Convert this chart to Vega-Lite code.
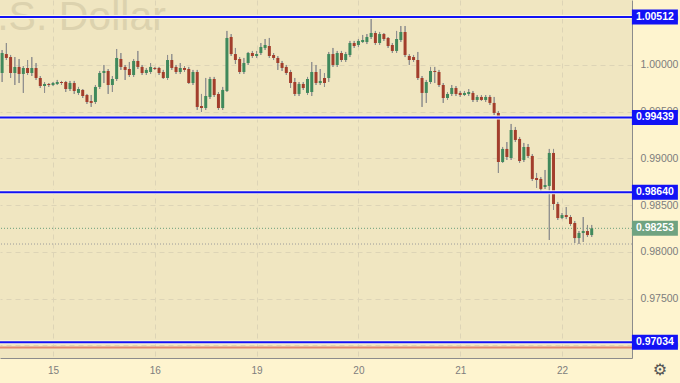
{
"$schema": "https://vega.github.io/schema/vega-lite/v6.json",
"width": 632, "height": 358,
"autosize": {"type": "none"},
"padding": {"left": 0, "top": 0, "right": 48, "bottom": 25},
"background": "#fef4cf",
"config": {"view": {"fill": "#f0e6c1", "stroke": null}, "font": "Liberation Sans"},
"datasets": {
"candles": [
{"i":0,"o":0.99914,"c":1.00128,"h":1.00160,"l":0.99818},
{"i":1,"o":1.00117,"c":1.00075,"h":1.00235,"l":1.00053},
{"i":2,"o":1.00085,"c":0.99914,"h":1.00107,"l":0.99861},
{"i":3,"o":0.99914,"c":0.99979,"h":1.00085,"l":0.99786},
{"i":4,"o":0.99979,"c":0.99904,"h":1.00064,"l":0.99807},
{"i":5,"o":0.99904,"c":0.99968,"h":0.99989,"l":0.99701},
{"i":6,"o":0.99968,"c":0.99914,"h":1.00053,"l":0.99893},
{"i":7,"o":0.99914,"c":0.99968,"h":1.00085,"l":0.99882},
{"i":8,"o":0.99968,"c":0.99861,"h":1.00021,"l":0.99840},
{"i":9,"o":0.99861,"c":0.99775,"h":0.99882,"l":0.99754},
{"i":10,"o":0.99775,"c":0.99797,"h":0.99818,"l":0.99701},
{"i":11,"o":0.99797,"c":0.99786,"h":0.99807,"l":0.99765},
{"i":12,"o":0.99786,"c":0.99807,"h":0.99818,"l":0.99775},
{"i":13,"o":0.99797,"c":0.99818,"h":0.99840,"l":0.99786},
{"i":14,"o":0.99818,"c":0.99807,"h":0.99829,"l":0.99786},
{"i":15,"o":0.99818,"c":0.99743,"h":0.99829,"l":0.99711},
{"i":16,"o":0.99743,"c":0.99807,"h":0.99829,"l":0.99722},
{"i":17,"o":0.99807,"c":0.99722,"h":0.99829,"l":0.99690},
{"i":18,"o":0.99701,"c":0.99743,"h":0.99765,"l":0.99679},
{"i":19,"o":0.99733,"c":0.99668,"h":0.99743,"l":0.99647},
{"i":20,"o":0.99679,"c":0.99604,"h":0.99690,"l":0.99583},
{"i":21,"o":0.99615,"c":0.99594,"h":0.99679,"l":0.99551},
{"i":22,"o":0.99604,"c":0.99765,"h":0.99786,"l":0.99583},
{"i":23,"o":0.99765,"c":0.99914,"h":0.99936,"l":0.99743},
{"i":24,"o":0.99914,"c":0.99936,"h":1.00000,"l":0.99807},
{"i":25,"o":0.99936,"c":0.99786,"h":0.99957,"l":0.99690},
{"i":26,"o":0.99786,"c":0.99850,"h":0.99882,"l":0.99711},
{"i":27,"o":0.99850,"c":1.00075,"h":1.00171,"l":0.99829},
{"i":28,"o":1.00064,"c":0.99979,"h":1.00128,"l":0.99947},
{"i":29,"o":0.99979,"c":0.99947,"h":1.00000,"l":0.99840},
{"i":30,"o":0.99957,"c":0.99893,"h":1.00032,"l":0.99872},
{"i":31,"o":0.99893,"c":1.00043,"h":1.00064,"l":0.99872},
{"i":32,"o":1.00043,"c":0.99979,"h":1.00150,"l":0.99957},
{"i":33,"o":0.99979,"c":0.99914,"h":1.00000,"l":0.99893},
{"i":34,"o":0.99914,"c":0.99947,"h":0.99968,"l":0.99893},
{"i":35,"o":0.99925,"c":0.99979,"h":1.00021,"l":0.99904},
{"i":36,"o":0.99968,"c":0.99957,"h":0.99979,"l":0.99947},
{"i":37,"o":0.99968,"c":0.99914,"h":0.99979,"l":0.99893},
{"i":38,"o":0.99925,"c":0.99861,"h":0.99947,"l":0.99850},
{"i":39,"o":0.99861,"c":1.00053,"h":1.00107,"l":0.99840},
{"i":40,"o":1.00053,"c":0.99968,"h":1.00117,"l":0.99947},
{"i":41,"o":0.99979,"c":0.99925,"h":1.00000,"l":0.99904},
{"i":42,"o":0.99925,"c":0.99968,"h":1.00021,"l":0.99904},
{"i":43,"o":0.99968,"c":0.99947,"h":0.99989,"l":0.99925},
{"i":44,"o":0.99957,"c":0.99807,"h":0.99979,"l":0.99797},
{"i":45,"o":0.99807,"c":0.99925,"h":0.99947,"l":0.99786},
{"i":46,"o":0.99925,"c":0.99551,"h":0.99947,"l":0.99519},
{"i":47,"o":0.99561,"c":0.99540,"h":0.99690,"l":0.99497},
{"i":48,"o":0.99540,"c":0.99668,"h":0.99861,"l":0.99519},
{"i":49,"o":0.99658,"c":0.99850,"h":0.99872,"l":0.99636},
{"i":50,"o":0.99850,"c":0.99679,"h":0.99872,"l":0.99658},
{"i":51,"o":0.99690,"c":0.99540,"h":0.99711,"l":0.99519},
{"i":52,"o":0.99540,"c":0.99733,"h":0.99765,"l":0.99519},
{"i":53,"o":0.99722,"c":1.00289,"h":1.00364,"l":0.99711},
{"i":54,"o":1.00299,"c":1.00117,"h":1.00331,"l":1.00096},
{"i":55,"o":1.00117,"c":1.00053,"h":1.00182,"l":1.00011},
{"i":56,"o":1.00064,"c":0.99925,"h":1.00085,"l":0.99904},
{"i":57,"o":0.99925,"c":1.00021,"h":1.00075,"l":0.99904},
{"i":58,"o":1.00021,"c":1.00128,"h":1.00139,"l":1.00000},
{"i":59,"o":1.00128,"c":1.00096,"h":1.00150,"l":1.00075},
{"i":60,"o":1.00096,"c":1.00117,"h":1.00150,"l":1.00075},
{"i":61,"o":1.00128,"c":1.00192,"h":1.00235,"l":1.00107},
{"i":62,"o":1.00182,"c":1.00214,"h":1.00278,"l":1.00160},
{"i":63,"o":1.00203,"c":1.00096,"h":1.00289,"l":1.00075},
{"i":64,"o":1.00107,"c":1.00075,"h":1.00128,"l":1.00053},
{"i":65,"o":1.00075,"c":1.00021,"h":1.00096,"l":0.99947},
{"i":66,"o":1.00021,"c":0.99968,"h":1.00043,"l":0.99936},
{"i":67,"o":0.99979,"c":0.99914,"h":1.00000,"l":0.99893},
{"i":68,"o":0.99925,"c":0.99807,"h":0.99947,"l":0.99754},
{"i":69,"o":0.99818,"c":0.99690,"h":0.99861,"l":0.99668},
{"i":70,"o":0.99690,"c":0.99797,"h":0.99818,"l":0.99668},
{"i":71,"o":0.99797,"c":0.99754,"h":0.99818,"l":0.99733},
{"i":72,"o":0.99701,"c":0.99850,"h":0.99872,"l":0.99679},
{"i":73,"o":0.99711,"c":0.99925,"h":1.00032,"l":0.99668},
{"i":74,"o":0.99925,"c":0.99807,"h":1.00000,"l":0.99786},
{"i":75,"o":0.99807,"c":0.99829,"h":0.99957,"l":0.99786},
{"i":76,"o":0.99861,"c":0.99807,"h":0.99914,"l":0.99765},
{"i":77,"o":0.99861,"c":1.00117,"h":1.00139,"l":0.99818},
{"i":78,"o":1.00117,"c":1.00000,"h":1.00182,"l":0.99979},
{"i":79,"o":1.00000,"c":1.00128,"h":1.00150,"l":0.99979},
{"i":80,"o":1.00128,"c":1.00053,"h":1.00150,"l":1.00032},
{"i":81,"o":1.00053,"c":1.00117,"h":1.00139,"l":1.00032},
{"i":82,"o":1.00107,"c":1.00235,"h":1.00257,"l":1.00085},
{"i":83,"o":1.00235,"c":1.00203,"h":1.00257,"l":1.00182},
{"i":84,"o":1.00214,"c":1.00257,"h":1.00278,"l":1.00192},
{"i":85,"o":1.00246,"c":1.00267,"h":1.00321,"l":1.00235},
{"i":86,"o":1.00246,"c":1.00299,"h":1.00331,"l":1.00224},
{"i":87,"o":1.00299,"c":1.00342,"h":1.00513,"l":1.00278},
{"i":88,"o":1.00342,"c":1.00235,"h":1.00364,"l":1.00214},
{"i":89,"o":1.00235,"c":1.00331,"h":1.00353,"l":1.00214},
{"i":90,"o":1.00331,"c":1.00278,"h":1.00342,"l":1.00257},
{"i":91,"o":1.00289,"c":1.00203,"h":1.00299,"l":1.00182},
{"i":92,"o":1.00214,"c":1.00150,"h":1.00235,"l":1.00128},
{"i":93,"o":1.00150,"c":1.00278,"h":1.00364,"l":1.00128},
{"i":94,"o":1.00267,"c":1.00353,"h":1.00417,"l":1.00246},
{"i":95,"o":1.00353,"c":1.00107,"h":1.00417,"l":1.00085},
{"i":96,"o":1.00096,"c":1.00053,"h":1.00117,"l":1.00000},
{"i":97,"o":1.00085,"c":1.00053,"h":1.00107,"l":1.00032},
{"i":98,"o":1.00053,"c":0.99861,"h":1.00139,"l":0.99840},
{"i":99,"o":0.99861,"c":0.99701,"h":0.99882,"l":0.99551},
{"i":100,"o":0.99701,"c":0.99818,"h":0.99840,"l":0.99594},
{"i":101,"o":0.99818,"c":0.99936,"h":0.99979,"l":0.99797},
{"i":102,"o":0.99936,"c":0.99925,"h":0.99979,"l":0.99807},
{"i":103,"o":0.99925,"c":0.99786,"h":0.99947,"l":0.99765},
{"i":104,"o":0.99786,"c":0.99647,"h":0.99807,"l":0.99594},
{"i":105,"o":0.99647,"c":0.99690,"h":0.99711,"l":0.99626},
{"i":106,"o":0.99690,"c":0.99754,"h":0.99786,"l":0.99668},
{"i":107,"o":0.99754,"c":0.99690,"h":0.99775,"l":0.99668},
{"i":108,"o":0.99701,"c":0.99679,"h":0.99722,"l":0.99658},
{"i":109,"o":0.99679,"c":0.99701,"h":0.99722,"l":0.99668},
{"i":110,"o":0.99690,"c":0.99711,"h":0.99743,"l":0.99668},
{"i":111,"o":0.99701,"c":0.99626,"h":0.99722,"l":0.99604},
{"i":112,"o":0.99626,"c":0.99658,"h":0.99679,"l":0.99604},
{"i":113,"o":0.99658,"c":0.99626,"h":0.99679,"l":0.99615},
{"i":114,"o":0.99626,"c":0.99658,"h":0.99679,"l":0.99604},
{"i":115,"o":0.99658,"c":0.99594,"h":0.99679,"l":0.99572},
{"i":116,"o":0.99594,"c":0.99487,"h":0.99658,"l":0.99465},
{"i":117,"o":0.99487,"c":0.98962,"h":0.99508,"l":0.98845},
{"i":118,"o":0.98962,"c":0.99102,"h":0.99123,"l":0.98952},
{"i":119,"o":0.99102,"c":0.99016,"h":0.99176,"l":0.98984},
{"i":120,"o":0.99005,"c":0.99305,"h":0.99369,"l":0.98984},
{"i":121,"o":0.99305,"c":0.99198,"h":0.99337,"l":0.99176},
{"i":122,"o":0.99209,"c":0.98973,"h":0.99230,"l":0.98952},
{"i":123,"o":0.98984,"c":0.99123,"h":0.99166,"l":0.98962},
{"i":124,"o":0.99123,"c":0.99027,"h":0.99155,"l":0.99005},
{"i":125,"o":0.99027,"c":0.98781,"h":0.99048,"l":0.98759},
{"i":126,"o":0.98791,"c":0.98770,"h":0.98845,"l":0.98684},
{"i":127,"o":0.98781,"c":0.98674,"h":0.98802,"l":0.98652},
{"i":128,"o":0.98695,"c":0.98716,"h":0.98877,"l":0.98674},
{"i":129,"o":0.98706,"c":0.99059,"h":0.99102,"l":0.98128},
{"i":130,"o":0.99059,"c":0.98513,"h":0.99102,"l":0.98449},
{"i":131,"o":0.98513,"c":0.98363,"h":0.98535,"l":0.98342},
{"i":132,"o":0.98363,"c":0.98395,"h":0.98417,"l":0.98352},
{"i":133,"o":0.98395,"c":0.98374,"h":0.98481,"l":0.98352},
{"i":134,"o":0.98374,"c":0.98299,"h":0.98395,"l":0.98278},
{"i":135,"o":0.98310,"c":0.98149,"h":0.98331,"l":0.98096},
{"i":136,"o":0.98149,"c":0.98203,"h":0.98224,"l":0.98085},
{"i":137,"o":0.98203,"c":0.98224,"h":0.98374,"l":0.98107},
{"i":138,"o":0.98224,"c":0.98181,"h":0.98289,"l":0.98160},
{"i":139,"o":0.98181,"c":0.98253,"h":0.98289,"l":0.98160}
],
"levels": [{"p":1.00512},{"p":0.99439},{"p":0.9864},{"p":0.97034}],
"last": [{"p":0.98253}],
"low": [{"p":0.98085}],
"orange": [{"p":0.96977}],
"one": [{"t":"Euro / U.S. Dollar"}]
},
"layer": [
{"data":{"name":"candles"},"mark":{"type":"rule","color":"#8e8e8e","strokeWidth":1},
 "encoding":{
  "x":{"field":"i","type":"quantitative","scale":{"domain":[-0.5,148.5],"nice":false,"zero":false,"padding":0},
    "axis":{"values":[12,36,60,84,108,132],"labelExpr":"datum.value==12?'15':datum.value==36?'16':datum.value==60?'19':datum.value==84?'20':datum.value==108?'21':'22'","title":null,"ticks":false,"labelPadding":7,"labelColor":"#7d7d7d","labelFontSize":10,"domainColor":"#8c8c8c","grid":true,"gridColor":"#ddd4b6","gridDash":[5,4]}},
  "y":{"field":"l","type":"quantitative","scale":{"domain":[0.96866,1.00695],"nice":false,"zero":false,"padding":0},
    "axis":{"orient":"right","values":[0.97,0.975,0.98,0.985,0.99,0.995,1.0,1.005],"format":".5f","title":null,"ticks":false,"labelPadding":8,"labelColor":"#7d7d7d","labelFontSize":10.5,"domainColor":"#8c8c8c","grid":true,"gridColor":"#ddd4b6","gridDash":[5,4]}},
  "y2":{"field":"h"}
 }},
{"data":{"name":"one"},"mark":{"type":"text","align":"right","baseline":"alphabetic","fontSize":41,"color":"#dcd2ae","font":"Liberation Sans"},
 "encoding":{"x":{"datum":38.6,"type":"quantitative"},"y":{"datum":1.00374,"type":"quantitative"},"text":{"field":"t"}}},
{"data":{"name":"orange"},"mark":{"type":"rule","color":"#e08a70","strokeWidth":2},"encoding":{"y":{"field":"p","type":"quantitative"}}},
{"data":{"name":"low"},"mark":{"type":"rule","color":"#9a9a9a","strokeWidth":1,"strokeDash":[1,2]},"encoding":{"y":{"field":"p","type":"quantitative"}}},
{"data":{"name":"last"},"mark":{"type":"rule","color":"#6a9f7b","strokeWidth":1,"strokeDash":[1,2]},"encoding":{"y":{"field":"p","type":"quantitative"}}},
{"data":{"name":"candles"},"mark":{"type":"rule","color":"#8e8e8e","strokeWidth":1},
 "encoding":{"x":{"field":"i","type":"quantitative"},"y":{"field":"l","type":"quantitative"},"y2":{"field":"h"}}},
{"data":{"name":"candles"},"mark":{"type":"bar","size":3},
 "encoding":{"x":{"field":"i","type":"quantitative"},"y":{"field":"o","type":"quantitative"},"y2":{"field":"c"},
  "color":{"condition":{"test":"datum.c >= datum.o","value":"#40895c"},"value":"#a23e2c"}}},
{"data":{"name":"levels"},"mark":{"type":"rule","color":"#fbf6de","strokeWidth":4},"encoding":{"y":{"field":"p","type":"quantitative"}}},
{"data":{"name":"levels"},"mark":{"type":"rule","color":"#1212f5","strokeWidth":2},"encoding":{"y":{"field":"p","type":"quantitative"}}},
{"data":{"name":"levels"},"mark":{"type":"tick","orient":"horizontal","thickness":15,"size":46,"color":"#1212f5","opacity":1},
 "encoding":{"x":{"datum":153.9,"type":"quantitative"},"y":{"field":"p","type":"quantitative"}}},
{"data":{"name":"last"},"mark":{"type":"tick","orient":"horizontal","thickness":15,"size":46,"color":"#6fa381","opacity":1},
 "encoding":{"x":{"datum":153.9,"type":"quantitative"},"y":{"field":"p","type":"quantitative"}}},
{"data":{"name":"levels"},"mark":{"type":"text","color":"white","fontWeight":"bold","fontSize":10.5,"align":"center","baseline":"middle"},
 "encoding":{"x":{"datum":153.9,"type":"quantitative"},"y":{"field":"p","type":"quantitative"},"text":{"field":"p","type":"quantitative","format":".5f"}}},
{"data":{"name":"last"},"mark":{"type":"text","color":"white","fontWeight":"bold","fontSize":10.5,"align":"center","baseline":"middle"},
 "encoding":{"x":{"datum":153.9,"type":"quantitative"},"y":{"field":"p","type":"quantitative"},"text":{"field":"p","type":"quantitative","format":".5f"}}},
{"data":{"name":"one"},"mark":{"type":"text","text":"⚙","fontSize":16,"color":"#555555","align":"center","baseline":"middle","font":"DejaVu Sans"},
 "encoding":{"x":{"datum":155.1,"type":"quantitative"},"y":{"datum":0.96738,"type":"quantitative"}}}
]
}
